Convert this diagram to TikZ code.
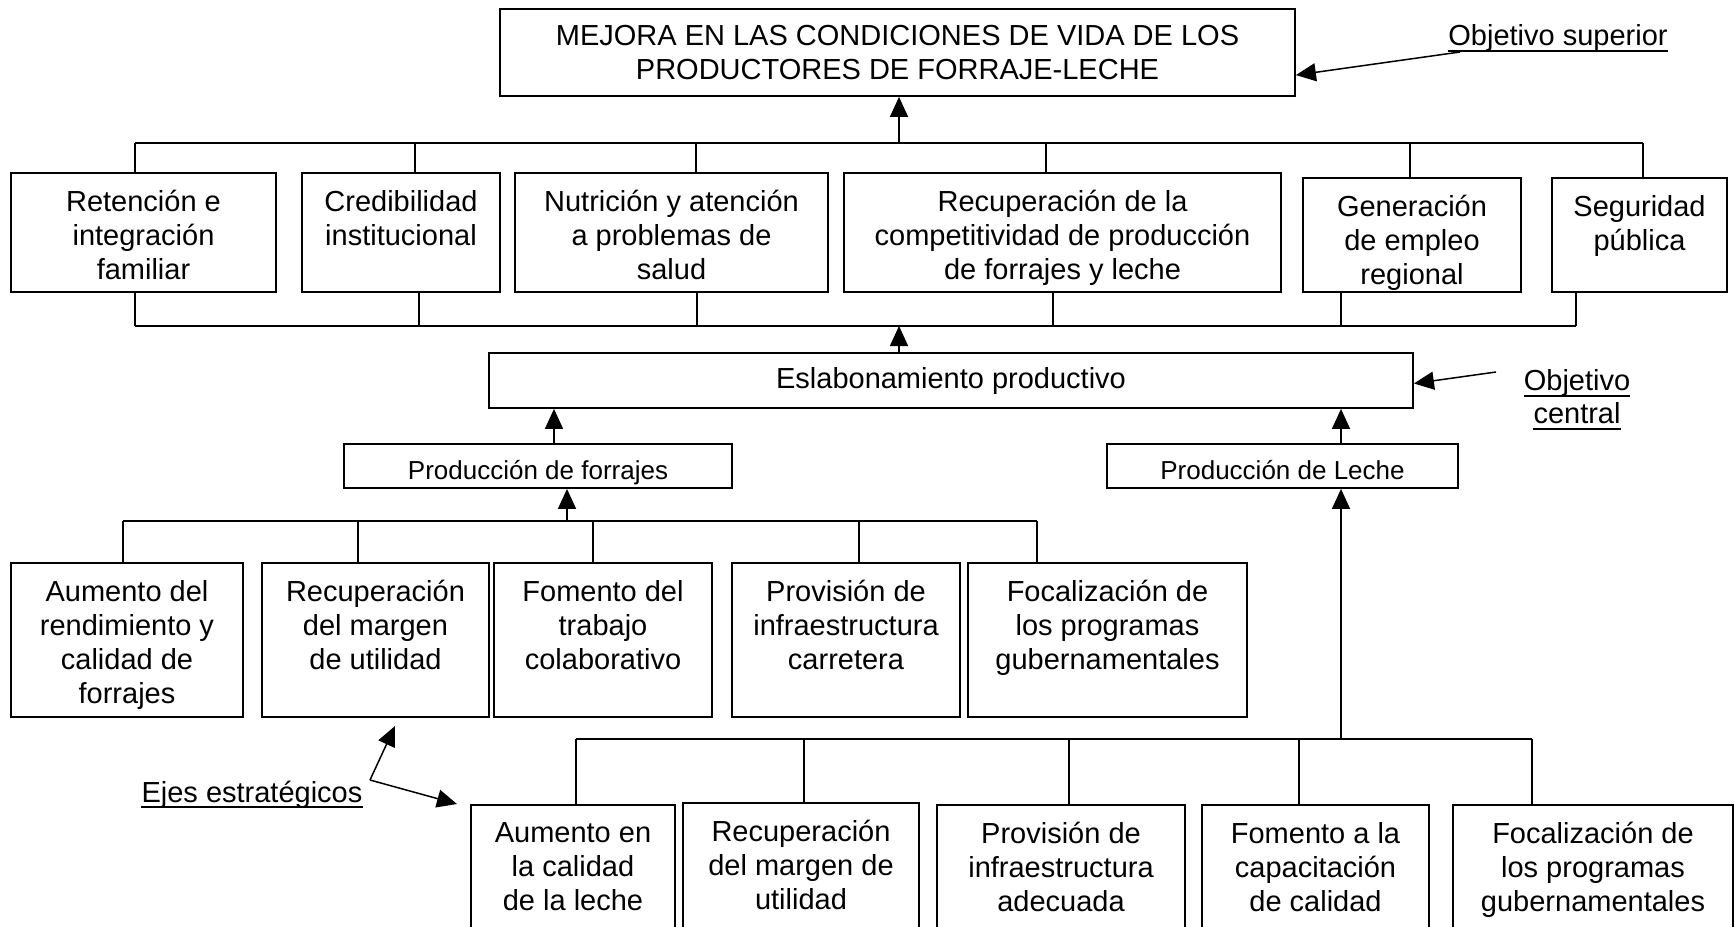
\documentclass[tikz,border=0pt]{standalone}
\usepackage{fontspec}
\setmainfont{Liberation Sans}
\usetikzlibrary{arrows.meta,calc,fit}
\newcommand\mybox[6]{%
  \node[box, fit={(#2,#3) (#4,#5)}] (#1) {};
  \node[txt, anchor=north] (#1T) at ($(#1.north)+(0,18)$) {#6};}
\newcommand\cbox[6]{%
  \node[box, fit={(#2,#3) (#4,#5)}] (#1) {};
  \node[txt] (#1T) at (#1.center) {#6};}
\begin{document}
\begin{tikzpicture}[x=1pt,y=-1pt,
  box/.style={draw, line width=1.8pt, inner sep=0pt},
  conn/.style={line width=1.5pt},
  arr/.style={line width=1.5pt, -{Triangle[length=20pt,width=18pt]}},
  txt/.style={align=center, inner sep=0pt, font=\fontsize{29}{34}\selectfont},
  small/.style={font=\fontsize{26}{30}\selectfont},
  uline/.style={line width=2pt}]
\useasboundingbox (0,0) rectangle (1736,926);
\clip (0,0) rectangle (1736,926);

% top objective
\cbox{top}{500}{9}{1295}{96}{MEJORA EN LAS CONDICIONES DE VIDA DE LOS\\PRODUCTORES DE FORRAJE-LECHE}
\node[txt, anchor=base] (osup) at (1558,45) {Objetivo superior};
\draw[uline] ([yshift=-6pt]osup.base west) -- ([yshift=-6pt]osup.base east);
\coordinate (osupA) at (1460,52);
\draw[arr] (osupA) -- ($(top.north east)+(0,67)$);

% row 2
\mybox{r2a}{11}{173}{276}{292}{Retención e\\integración\\familiar}
\mybox{r2b}{302}{173}{500}{292}{Credibilidad\\institucional}
\mybox{r2c}{515}{173}{828}{292}{Nutrición y atención\\a problemas de\\salud}
\mybox{r2d}{844}{173}{1281}{292}{Recuperación de la\\competitividad de producción\\de forrajes y leche}
\mybox{r2e}{1303}{178}{1521}{292}{Generación\\de empleo\\regional}
\mybox{r2f}{1552}{178}{1727}{292}{Seguridad\\pública}

\foreach \x/\n in {135/r2a,415/r2b,696/r2c,1046/r2d,1410/r2e,1643/r2f}{
  \coordinate (tb-\n) at (\x,143);
  \draw[conn] (tb-\n) -- (tb-\n |- \n.north);}
\draw[conn] (tb-r2a) -- (tb-r2f);
\coordinate (tbA) at (899,143);
\draw[arr] (tbA) -- (tbA |- top.south);

\foreach \x/\n in {135/r2a,419/r2b,697/r2c,1053/r2d,1341/r2e,1576/r2f}{
  \coordinate (bb-\n) at (\x,326);
  \draw[conn] (bb-\n |- \n.south) -- (bb-\n);}
\draw[conn] (bb-r2a) -- (bb-r2f);

% central objective
\cbox{esl}{489}{353}{1413}{408}{Eslabonamiento productivo}
\coordinate (bbA) at (899,326);
\draw[arr] (bbA |- esl.north) -- (bbA);

\node[txt, anchor=base] (oc1) at (1577,390) {Objetivo};
\draw[uline] ([yshift=-6pt]oc1.base west) -- ([yshift=-6pt]oc1.base east);
\node[txt, anchor=base] (oc2) at (1577,423) {central};
\draw[uline] ([yshift=-6pt]oc2.base west) -- ([yshift=-6pt]oc2.base east);
\coordinate (ocA) at (1496,372);
\draw[arr] (ocA) -- ($(esl.east)+(0,3)$);

% production boxes
\node[box, fit={(344,444) (732,488)}] (pf) {};
\node[txt, small, anchor=base] (pfT) at (pf.center |- 0,479) {Producción de forrajes};
\node[box, fit={(1107,444) (1458,488)}] (pl) {};
\node[txt, small, anchor=base] (plT) at (pl.center |- 0,479) {Producción de Leche};
\coordinate (pfA) at (554,444);
\draw[arr] (pfA) -- (pfA |- esl.south);
\coordinate (plA) at (1341,444);
\draw[arr] (plA) -- (plA |- esl.south);

% row 3
\mybox{r3a}{11}{563}{243}{717}{Aumento del\\rendimiento y\\calidad de\\forrajes}
\mybox{r3b}{262}{563}{489}{717}{Recuperación\\del margen\\de utilidad}
\mybox{r3c}{494}{563}{712}{717}{Fomento del\\trabajo\\colaborativo}
\mybox{r3d}{732}{563}{960}{717}{Provisión de\\infraestructura\\carretera}
\mybox{r3e}{968}{563}{1247}{717}{Focalización de\\los programas\\gubernamentales}

\foreach \x/\n in {123/r3a,358/r3b,593/r3c,859/r3d,1037/r3e}{
  \coordinate (fb-\n) at (\x,521);
  \draw[conn] (fb-\n) -- (fb-\n |- \n.north);}
\draw[conn] (fb-r3a) -- (fb-r3e);
\coordinate (fbA) at (567,521);
\draw[arr] (fbA) -- (fbA |- pf.south);

% row 4
\mybox{r4a}{471}{805}{675}{945}{Aumento en\\la calidad\\de la leche}
\mybox{r4b}{683}{803}{919}{945}{Recuperación\\del margen de\\utilidad}
\mybox{r4c}{937}{805}{1185}{945}{Provisión de\\infraestructura\\adecuada}
\mybox{r4d}{1202}{805}{1429}{945}{Fomento a la\\capacitación\\de calidad}
\mybox{r4e}{1453}{805}{1733}{945}{Focalización de\\los programas\\gubernamentales}

\foreach \x/\n in {576/r4a,804/r4b,1069/r4c,1299/r4d,1532/r4e}{
  \coordinate (lb-\n) at (\x,739);
  \draw[conn] (lb-\n) -- (lb-\n |- \n.north);}
\draw[conn] (lb-r4a) -- (lb-r4e);
\coordinate (lbA) at (1341,739);
\draw[arr] (lbA) -- (lbA |- pl.south);

% strategic axes label
\node[txt, anchor=base] (ejes) at (252,802) {Ejes estratégicos};
\draw[uline] ([yshift=-5pt]ejes.base west) -- ([yshift=-5pt]ejes.base east);
\coordinate (ejC) at (370,780);
\coordinate (ejU) at (395,726);
\coordinate (ejD) at (457,804);
\draw[arr] (ejC) -- (ejU);
\draw[arr] (ejC) -- (ejD);
\end{tikzpicture}
\end{document}
